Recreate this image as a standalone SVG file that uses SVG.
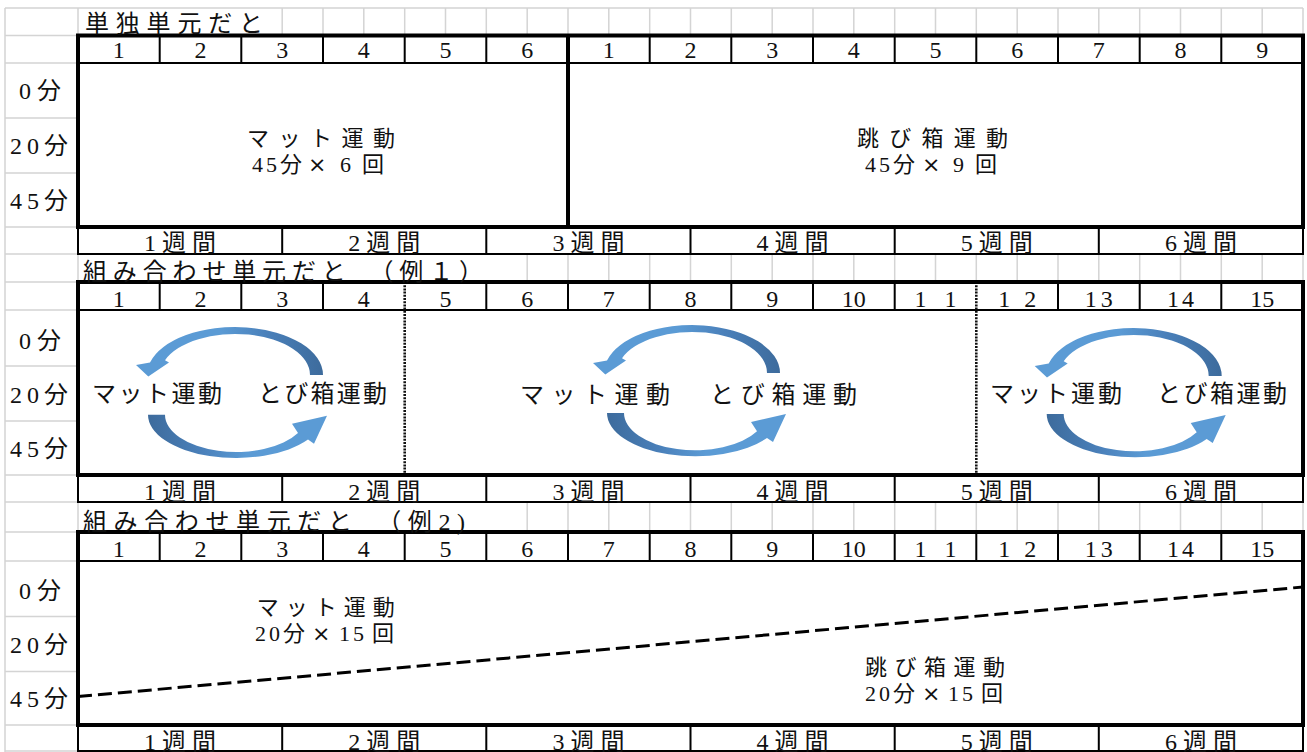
<svg xmlns="http://www.w3.org/2000/svg" width="1307" height="752" viewBox="0 0 1307 752">
<style>
.grid{stroke:#d4d4d4;stroke-width:1.5;fill:none}
.thick{stroke:#000;stroke-width:4;fill:none}
.thin{stroke:#000;stroke-width:2;fill:none}
.dot{stroke:#111;stroke-width:2.6;stroke-dasharray:2 1.2;fill:none}
.dash{stroke:#000;stroke-width:3;stroke-dasharray:14 6;fill:none}
.t{font-family:"Liberation Serif","Noto Sans CJK JP",serif;font-size:24px;fill:#111}
.b{font-size:22px}
.x{font-family:"DejaVu Sans",sans-serif}
.n{text-anchor:middle}
.c{text-anchor:middle}
</style>
<defs>
<linearGradient id="gTop" x1="1" y1="0" x2="0" y2="0">
<stop offset="0" stop-color="#3d6b9c"/><stop offset="0.3" stop-color="#4a80ba"/><stop offset="0.55" stop-color="#5b9bd5"/><stop offset="1" stop-color="#5b9bd5"/>
</linearGradient>
<linearGradient id="gBot" x1="0" y1="0" x2="1" y2="0">
<stop offset="0" stop-color="#3d6b9c"/><stop offset="0.3" stop-color="#4a80ba"/><stop offset="0.55" stop-color="#5b9bd5"/><stop offset="1" stop-color="#5b9bd5"/>
</linearGradient>
<path id="arcTop" d="M88,0 A88,48 0 0,0 -85,-12.4 L-99,-10 L-86.7,1.5 L-66,-12.5 L-70,-14.8 A75,41 0 0,1 75,0 Z" fill="url(#gTop)"/>
<path id="arcBot" d="M-88,0 A88,43.3 0 0,0 72,24.9 L78,29 L91,1 L56,9 L62,18.2 A71,37.3 0 0,1 -71,0 Z" fill="url(#gBot)"/>
</defs>
<rect width="1307" height="752" fill="#fff"/>

<g id="sheet-grid">
<path class="grid" d="M5 8V752M5 8H1303M5 35.5H78M5 63H78M5 118H78M5 173H78M5 227H78M5 254H78M5 282H78M5 310H78M5 366H78M5 421H78M5 475H78M5 502H78M5 532H78M5 561H78M5 616.5H78M5 671.5H78M5 725H78M5 751H78"/>
<path class="grid" d="M78 8v27.5M282.2 8v27.5M323 8v27.5M363.8 8v27.5M404.7 8v27.5M445.5 8v27.5M486.3 8v27.5M527.2 8v27.5M568 8v27.5M608.8 8v27.5M649.7 8v27.5M690.5 8v27.5M731.3 8v27.5M772.2 8v27.5M813 8v27.5M853.8 8v27.5M894.7 8v27.5M935.5 8v27.5M976.3 8v27.5M1017.2 8v27.5M1058 8v27.5M1098.8 8v27.5M1139.7 8v27.5M1180.5 8v27.5M1221.3 8v27.5M1262.2 8v27.5M1303 8v27.5"/>
<path class="grid" d="M78 254v28M527.2 254v28M568 254v28M608.8 254v28M649.7 254v28M690.5 254v28M731.3 254v28M772.2 254v28M813 254v28M853.8 254v28M894.7 254v28M935.5 254v28M976.3 254v28M1017.2 254v28M1058 254v28M1098.8 254v28M1139.7 254v28M1180.5 254v28M1221.3 254v28M1262.2 254v28M1303 254v28"/>
<path class="grid" d="M78 502v30M527.2 502v30M568 502v30M608.8 502v30M649.7 502v30M690.5 502v30M731.3 502v30M772.2 502v30M813 502v30M853.8 502v30M894.7 502v30M935.5 502v30M976.3 502v30M1017.2 502v30M1058 502v30M1098.8 502v30M1139.7 502v30M1180.5 502v30M1221.3 502v30M1262.2 502v30M1303 502v30"/>
</g>

<g id="section1">
<g id="s1-frame">
<path class="thin" d="M78 63H1303M159.7 35.5V63M241.3 35.5V63M323 35.5V63M404.7 35.5V63M486.3 35.5V63M649.7 35.5V63M731.3 35.5V63M813 35.5V63M894.7 35.5V63M976.3 35.5V63M1058 35.5V63M1139.7 35.5V63M1221.3 35.5V63"/>
<path class="thin" d="M78 227V254H1303V227M282.2 227V254M486.3 227V254M690.5 227V254M894.7 227V254M1098.8 227V254"/>
<rect class="thick" x="78" y="35.5" width="1225" height="191.5"/>
<path class="thick" d="M568 35.5V227"/>
</g>
<text class="t" x="85" y="32" textLength="178">単独単元だと</text>
<g id="s1-header" class="t n">
<text x="118.8" y="58">1</text><text x="200.5" y="58">2</text><text x="282.2" y="58">3</text><text x="363.8" y="58">4</text><text x="445.5" y="58">5</text><text x="527.2" y="58">6</text>
<text x="608.8" y="58">1</text><text x="690.5" y="58">2</text><text x="772.2" y="58">3</text><text x="853.8" y="58">4</text><text x="935.5" y="58">5</text><text x="1017.2" y="58">6</text><text x="1098.8" y="58">7</text><text x="1180.5" y="58">8</text><text x="1262.2" y="58">9</text>
</g>
<g id="s1-minutes" class="t c">
<text x="40" y="99" textLength="42">0分</text><text x="39" y="154" textLength="58">20分</text><text x="39" y="209" textLength="58">45分</text>
</g>
<g id="s1-mat">
<text class="t b" x="247" y="146" textLength="148">マット運動</text>
<text class="t b" y="171.5"><tspan x="252 266 280">45分</tspan><tspan class="x" x="308">×</tspan><tspan x="340 362">6回</tspan></text>
</g>
<g id="s1-tobibako">
<text class="t b" x="857" y="146" textLength="151">跳び箱運動</text>
<text class="t b" y="171.5"><tspan x="865 879 893">45分</tspan><tspan class="x" x="922">×</tspan><tspan x="953 975">9回</tspan></text>
</g>
<g id="s1-weeks" class="t c">
<text x="180.1" y="251" textLength="72">1週間</text><text x="384.3" y="251" textLength="72">2週間</text><text x="588.4" y="251" textLength="72">3週間</text><text x="792.6" y="251" textLength="72">4週間</text><text x="996.8" y="251" textLength="72">5週間</text><text x="1200.9" y="251" textLength="72">6週間</text>
</g>
</g>

<g id="section2">
<g id="s2-frame">
<path class="thin" d="M78 310H1303M159.7 282V310M241.3 282V310M323 282V310M486.3 282V310M568 282V310M649.7 282V310M731.3 282V310M813 282V310M894.7 282V310M1058 282V310M1139.7 282V310M1221.3 282V310"/>
<path class="thin" d="M78 475V502H1303V475M282.2 475V502M486.3 475V502M690.5 475V502M894.7 475V502M1098.8 475V502"/>
<path class="dot" d="M404.7 282V475M976.3 282V475"/>
<rect class="thick" x="78" y="282" width="1225" height="193"/>
</g>
<text class="t" x="83" y="279.5" textLength="400">組み合わせ単元だと　（例１）</text>
<g id="s2-header" class="t n">
<text x="118.8" y="307">1</text><text x="200.5" y="307">2</text><text x="282.2" y="307">3</text><text x="363.8" y="307">4</text><text x="445.5" y="307">5</text><text x="527.2" y="307">6</text><text x="608.8" y="307">7</text><text x="690.5" y="307">8</text><text x="772.2" y="307">9</text><text x="853.8" y="307">10</text><text x="935.5" y="307" textLength="42">11</text><text x="1017.2" y="307" textLength="38">12</text><text x="1098.8" y="307" textLength="28">13</text><text x="1180.5" y="307" textLength="27">14</text><text x="1262.2" y="307">15</text>
</g>
<g id="s2-minutes" class="t c">
<text x="40" y="349" textLength="42">0分</text><text x="39" y="402.5" textLength="58">20分</text><text x="39" y="457" textLength="58">45分</text>
</g>
<g id="s2-block1">
<text class="t" x="92" y="402" textLength="130">マット運動</text>
<text class="t" x="258" y="402" textLength="129">とび箱運動</text>
</g>
<g id="s2-block2">
<text class="t" x="520" y="403" textLength="150">マット運動</text>
<text class="t" x="710" y="403" textLength="147">とび箱運動</text>
</g>
<g id="s2-block3">
<text class="t" x="990" y="402" textLength="132">マット運動</text>
<text class="t" x="1157" y="402" textLength="130">とび箱運動</text>
</g>
<g id="s2-weeks" class="t c">
<text x="180.1" y="500" textLength="72">1週間</text><text x="384.3" y="500" textLength="72">2週間</text><text x="588.4" y="500" textLength="72">3週間</text><text x="792.6" y="500" textLength="72">4週間</text><text x="996.8" y="500" textLength="72">5週間</text><text x="1200.9" y="500" textLength="72">6週間</text>
</g>
</g>

<g id="section3">
<g id="s3-frame">
<path class="thin" d="M78 561H1303M159.7 532V561M241.3 532V561M323 532V561M404.7 532V561M486.3 532V561M568 532V561M649.7 532V561M731.3 532V561M813 532V561M894.7 532V561M976.3 532V561M1058 532V561M1139.7 532V561M1221.3 532V561"/>
<path class="thin" d="M78 725V751H1303V725M282.2 725V751M486.3 725V751M690.5 725V751M894.7 725V751M1098.8 725V751"/>
<rect class="thick" x="78" y="532" width="1225" height="193"/>
</g>
<text class="t" x="83" y="530" textLength="382">組み合わせ単元だと　（例2)</text>
<g id="s3-header" class="t n">
<text x="118.8" y="557">1</text><text x="200.5" y="557">2</text><text x="282.2" y="557">3</text><text x="363.8" y="557">4</text><text x="445.5" y="557">5</text><text x="527.2" y="557">6</text><text x="608.8" y="557">7</text><text x="690.5" y="557">8</text><text x="772.2" y="557">9</text><text x="853.8" y="557">10</text><text x="935.5" y="557" textLength="42">11</text><text x="1017.2" y="557" textLength="38">12</text><text x="1098.8" y="557" textLength="28">13</text><text x="1180.5" y="557" textLength="27">14</text><text x="1262.2" y="557">15</text>
</g>
<g id="s3-minutes" class="t c">
<text x="40" y="599" textLength="42">0分</text><text x="39" y="652.5" textLength="58">20分</text><text x="39" y="707" textLength="58">45分</text>
</g>
<g id="s3-mat">
<text class="t b" x="256.7" y="614.5" textLength="138">マット運動</text>
<text class="t b" y="640.5"><tspan x="255 269 283">20分</tspan><tspan class="x" x="312">×</tspan><tspan x="339 353 372">15回</tspan></text>
</g>
<g id="s3-tobibako">
<text class="t b" x="865" y="674.5" textLength="140">跳び箱運動</text>
<text class="t b" y="700.5"><tspan x="865 879 893">20分</tspan><tspan class="x" x="922">×</tspan><tspan x="948 962 981">15回</tspan></text>
</g>
<g id="s3-weeks" class="t c">
<text x="180.1" y="749.5" textLength="72">1週間</text><text x="384.3" y="749.5" textLength="72">2週間</text><text x="588.4" y="749.5" textLength="72">3週間</text><text x="792.6" y="749.5" textLength="72">4週間</text><text x="996.8" y="749.5" textLength="72">5週間</text><text x="1200.9" y="749.5" textLength="72">6週間</text>
</g>
</g>

<g id="connectors">
<use href="#arcTop" transform="translate(235,375)"/>
<use href="#arcBot" transform="translate(236,414.7)"/>
<use href="#arcTop" transform="translate(692,373)"/>
<use href="#arcBot" transform="translate(695,413)"/>
<use href="#arcTop" transform="translate(1133.7,376)"/>
<use href="#arcBot" transform="translate(1134.7,414)"/>
<path class="dash" d="M78 696.5L1303 587"/>
</g>
</svg>
